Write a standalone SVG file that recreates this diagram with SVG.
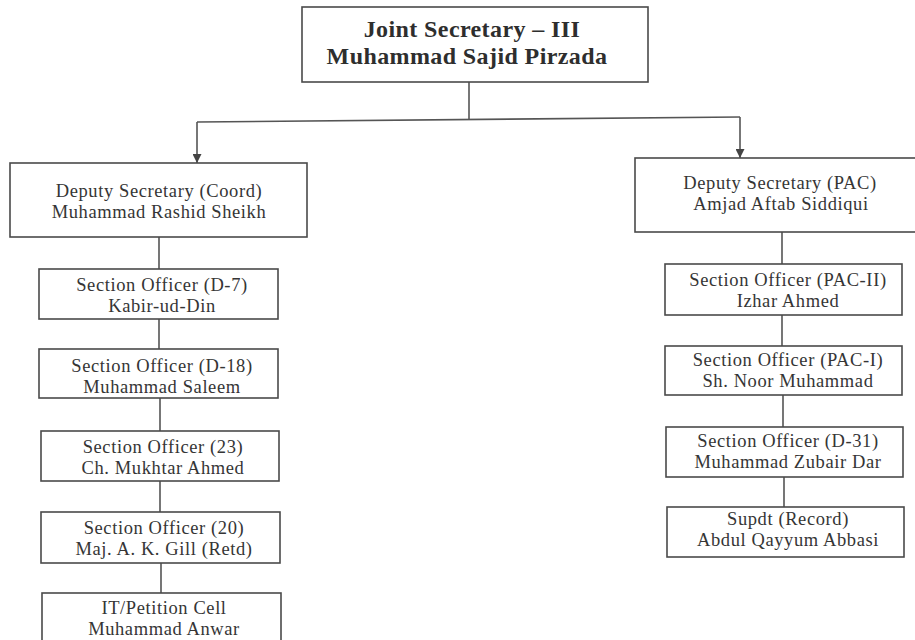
<svg xmlns="http://www.w3.org/2000/svg" width="915" height="640" viewBox="0 0 915 640">
<style>
.box{fill:#fff;stroke:#4a4a4a;stroke-width:1.6}
.t{font-family:"Liberation Serif","Times New Roman",serif;font-size:18.5px;letter-spacing:0.6px;fill:#353535;text-anchor:middle}
.tb{font-family:"Liberation Serif","Times New Roman",serif;font-size:24px;letter-spacing:0.4px;font-weight:bold;fill:#2e2e2e;text-anchor:middle}
.c{fill:none;stroke:#555;stroke-width:1.6}
</style>
<defs>
<marker id="arr" viewBox="0 0 10 10" refX="10" refY="5" markerWidth="9" markerHeight="9" markerUnits="userSpaceOnUse" orient="auto">
<path d="M0,0 L10,5 L0,10 Z" fill="#444"/>
</marker>
</defs>
<rect width="915" height="640" fill="#fff"/>
<g id="connectors">
<path class="c" d="M469,82 L469,120"/>
<path class="c" d="M197,122 L740,117"/>
<path class="c" d="M197,122 L197,163" marker-end="url(#arr)"/>
<path class="c" d="M740,117 L740,158" marker-end="url(#arr)"/>
<path class="c" d="M159,237 L159,269 M159,319 L159,349 M160,398 L160,431 M160,481 L160,512 M161,563 L161,593"/>
<path class="c" d="M782,232 L782,264 M782,315 L782,346 M783,395 L783,427 M784,477 L784,507"/>
</g>
<g id="js3">
<rect class="box" x="302" y="7" width="346" height="75"/>
<text class="tb" x="472" y="37">Joint Secretary – III</text>
<text class="tb" x="467" y="64">Muhammad Sajid Pirzada</text>
</g>
<g id="ds-coord">
<rect class="box" x="10" y="163" width="297" height="74"/>
<text class="t" x="159" y="197">Deputy Secretary (Coord)</text>
<text class="t" x="159" y="218">Muhammad Rashid Sheikh</text>
</g>
<g id="so-d7">
<rect class="box" x="39" y="269" width="239" height="50"/>
<text class="t" x="162" y="291">Section Officer (D-7)</text>
<text class="t" x="162" y="312">Kabir-ud-Din</text>
</g>
<g id="so-d18">
<rect class="box" x="39" y="349" width="239" height="49"/>
<text class="t" x="162" y="372">Section Officer (D-18)</text>
<text class="t" x="162" y="393">Muhammad Saleem</text>
</g>
<g id="so-23">
<rect class="box" x="41" y="431" width="238" height="50"/>
<text class="t" x="163" y="453">Section Officer (23)</text>
<text class="t" x="163" y="474">Ch. Mukhtar Ahmed</text>
</g>
<g id="so-20">
<rect class="box" x="41" y="512" width="239" height="51"/>
<text class="t" x="164" y="534">Section Officer (20)</text>
<text class="t" x="164" y="555">Maj. A. K. Gill (Retd)</text>
</g>
<g id="it-cell">
<rect class="box" x="42" y="593" width="239" height="60"/>
<text class="t" x="164" y="614">IT/Petition Cell</text>
<text class="t" x="164" y="635">Muhammad Anwar</text>
</g>
<g id="ds-pac">
<rect class="box" x="635" y="158" width="290" height="74"/>
<text class="t" x="780" y="189">Deputy Secretary (PAC)</text>
<text class="t" x="781" y="210">Amjad Aftab Siddiqui</text>
</g>
<g id="so-pac2">
<rect class="box" x="665" y="264" width="237" height="51"/>
<text class="t" x="788" y="286">Section Officer (PAC-II)</text>
<text class="t" x="788" y="307">Izhar Ahmed</text>
</g>
<g id="so-pac1">
<rect class="box" x="665" y="346" width="237" height="49"/>
<text class="t" x="788" y="366">Section Officer (PAC-I)</text>
<text class="t" x="788" y="387">Sh. Noor Muhammad</text>
</g>
<g id="so-d31">
<rect class="box" x="666" y="427" width="237" height="50"/>
<text class="t" x="788" y="447">Section Officer (D-31)</text>
<text class="t" x="788" y="468">Muhammad Zubair Dar</text>
</g>
<g id="supdt">
<rect class="box" x="667" y="507" width="237" height="50"/>
<text class="t" x="788" y="525">Supdt (Record)</text>
<text class="t" x="788" y="546">Abdul Qayyum Abbasi</text>
</g>
</svg>
